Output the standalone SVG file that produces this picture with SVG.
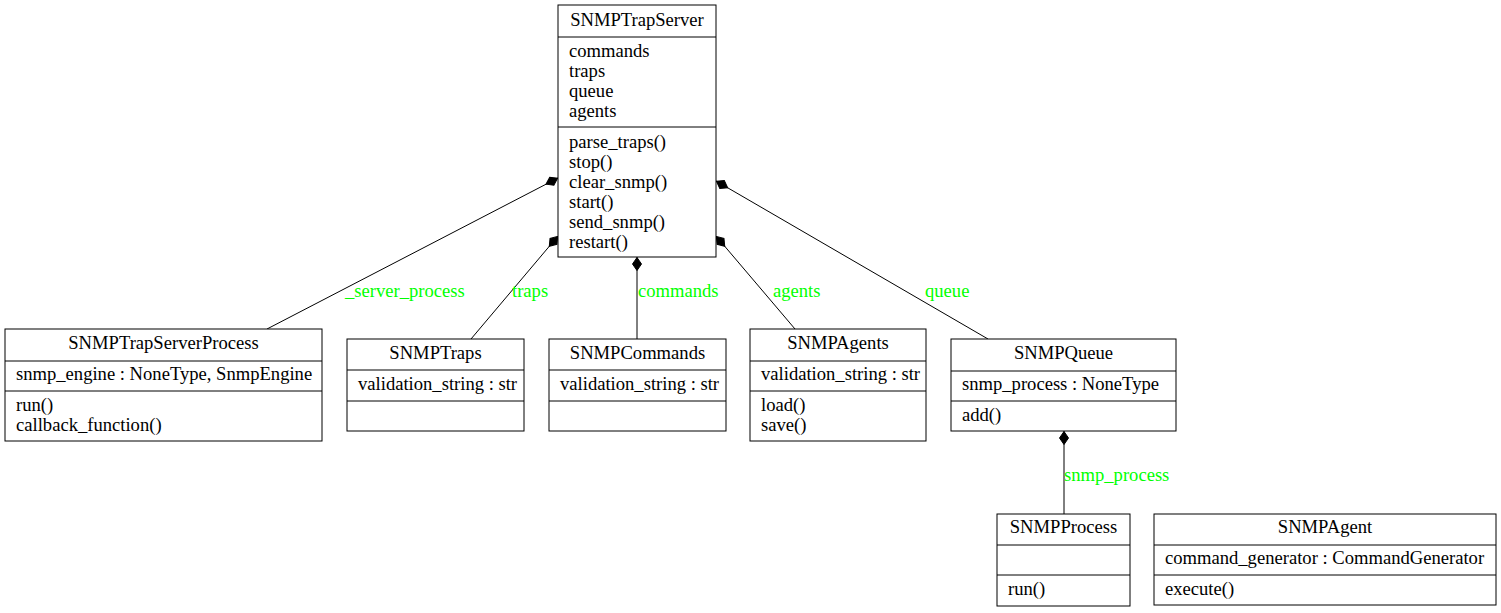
<svg xmlns="http://www.w3.org/2000/svg" width="1501" height="613" viewBox="0 0 1501 613">
<style>
text{font-family:"Liberation Serif","Times New Roman",serif;font-size:18.6px;fill:#000}
.t{text-anchor:middle}
.lbl{fill:#00ff00}
rect{fill:#fff;stroke:#000;stroke-width:1}
line.s{stroke:#000;stroke-width:1}
.e{stroke:#000;stroke-width:1;fill:none;marker-start:url(#dia)}
</style>
<defs>
<marker id="dia" markerUnits="userSpaceOnUse" markerWidth="16" markerHeight="12" refX="0" refY="6" orient="auto" viewBox="0 0 16 12">
<polygon points="0.5,6 7,1.5 13.5,6 7,10.5" fill="#000" stroke="#000"/>
</marker>
</defs>
<rect x="0" y="0" width="1501" height="613" style="fill:#fff;stroke:none"/>
<g id="connectors">
<path class="e" d="M558,178 L267,329"/>
<path class="e" d="M558,236 L471,339"/>
<path class="e" d="M637,257 L637,339"/>
<path class="e" d="M716,236 L795,329"/>
<path class="e" d="M716,181 L988,339"/>
<path class="e" d="M1064,431 L1064,514"/>
<text class="lbl" x="345" y="297">_server_process</text>
<text class="lbl" x="512" y="297">traps</text>
<text class="lbl" x="638" y="297">commands</text>
<text class="lbl" x="773" y="297">agents</text>
<text class="lbl" x="925" y="297">queue</text>
<text class="lbl" x="1064" y="481">snmp_process</text>
</g>
<g id="SNMPTrapServer">
<rect x="558" y="5" width="158" height="252"/>
<line class="s" x1="558" y1="37" x2="716" y2="37"/>
<line class="s" x1="558" y1="127" x2="716" y2="127"/>
<text class="t" x="637" y="26">SNMPTrapServer</text>
<text x="569" y="57">commands</text>
<text x="569" y="77">traps</text>
<text x="569" y="97">queue</text>
<text x="569" y="117">agents</text>
<text x="569" y="148">parse_traps()</text>
<text x="569" y="168">stop()</text>
<text x="569" y="188">clear_snmp()</text>
<text x="569" y="208">start()</text>
<text x="569" y="228">send_snmp()</text>
<text x="569" y="248">restart()</text>
</g>
<g id="SNMPTrapServerProcess">
<rect x="5" y="329" width="317" height="112"/>
<line class="s" x1="5" y1="361" x2="322" y2="361"/>
<line class="s" x1="5" y1="391" x2="322" y2="391"/>
<text class="t" x="163.5" y="349">SNMPTrapServerProcess</text>
<text x="16" y="380">snmp_engine : NoneType, SnmpEngine</text>
<text x="16" y="411">run()</text>
<text x="16" y="431">callback_function()</text>
</g>
<g id="SNMPTraps">
<rect x="347" y="339" width="177" height="92"/>
<line class="s" x1="347" y1="370" x2="524" y2="370"/>
<line class="s" x1="347" y1="401" x2="524" y2="401"/>
<text class="t" x="435.5" y="359">SNMPTraps</text>
<text x="358" y="390">validation_string : str</text>
</g>
<g id="SNMPCommands">
<rect x="549" y="339" width="177" height="92"/>
<line class="s" x1="549" y1="370" x2="726" y2="370"/>
<line class="s" x1="549" y1="401" x2="726" y2="401"/>
<text class="t" x="637.5" y="359">SNMPCommands</text>
<text x="560" y="390">validation_string : str</text>
</g>
<g id="SNMPAgents">
<rect x="750" y="329" width="176" height="112"/>
<line class="s" x1="750" y1="361" x2="926" y2="361"/>
<line class="s" x1="750" y1="391" x2="926" y2="391"/>
<text class="t" x="838" y="349">SNMPAgents</text>
<text x="761" y="380">validation_string : str</text>
<text x="761" y="411">load()</text>
<text x="761" y="431">save()</text>
</g>
<g id="SNMPQueue">
<rect x="951" y="339" width="225" height="92"/>
<line class="s" x1="951" y1="371" x2="1176" y2="371"/>
<line class="s" x1="951" y1="401" x2="1176" y2="401"/>
<text class="t" x="1063.5" y="359">SNMPQueue</text>
<text x="962" y="390">snmp_process : NoneType</text>
<text x="962" y="421">add()</text>
</g>
<g id="SNMPProcess">
<rect x="997" y="514" width="133" height="92"/>
<line class="s" x1="997" y1="545" x2="1130" y2="545"/>
<line class="s" x1="997" y1="575" x2="1130" y2="575"/>
<text class="t" x="1063.5" y="533">SNMPProcess</text>
<text x="1008" y="595">run()</text>
</g>
<g id="SNMPAgent">
<rect x="1154" y="514" width="342" height="91"/>
<line class="s" x1="1154" y1="545" x2="1496" y2="545"/>
<line class="s" x1="1154" y1="575" x2="1496" y2="575"/>
<text class="t" x="1325" y="533">SNMPAgent</text>
<text x="1165" y="564">command_generator : CommandGenerator</text>
<text x="1165" y="595">execute()</text>
</g>
</svg>
